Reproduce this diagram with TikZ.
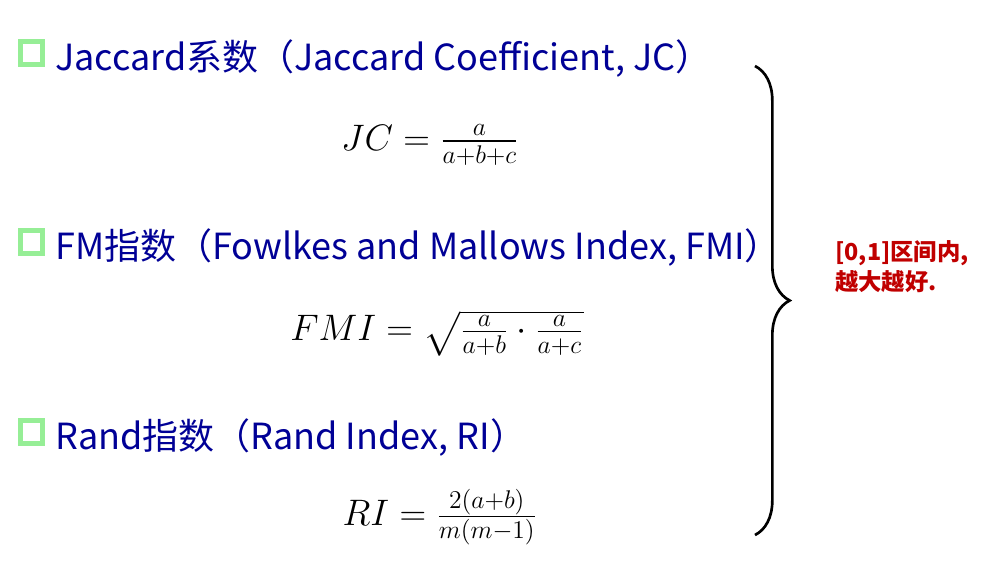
\documentclass[tikz,border=0pt]{standalone}
\usepackage{amsmath}
\usepackage{graphicx}
\usepackage{fontspec}
\setmainfont{Noto Sans CJK SC}
\usetikzlibrary{decorations.pathreplacing}
\definecolor{headblue}{RGB}{0,0,150}
\definecolor{boxgreen}{RGB}{150,238,150}
\definecolor{notered}{RGB}{192,0,0}
\tikzset{
  bulletbox/.style={draw=boxgreen,line width=3.6pt,minimum size=17pt,inner sep=0pt},
  headtext/.style={anchor=base west,text=headblue,inner sep=0pt,font=\fontsize{27}{30}\selectfont},
  formula/.style={inner sep=0pt,font=\fontsize{17}{20}\selectfont},
  notetext/.style={anchor=base west,text=notered,inner sep=0pt,align=left,font=\fontsize{17.5}{22.5}\selectfont\bfseries}
}
\newcommand{\bigmath}[1]{\scalebox{1.6}{$#1$}}
\begin{document}
\begin{tikzpicture}[x=0.75pt,y=-0.75pt]
\useasboundingbox (0,0) rectangle (986,587);
% items
\node[bulletbox] (b1) at (31.5,53) {};
\node[headtext] (h1) at (55,70) {Jaccard系数（Jaccard Coefficient, JC）};
\node[formula] (f1) at (430,145) {\bigmath{JC=\frac{a}{a+b+c}}};
\node[bulletbox] (b2) at (31.5,242) {};
\node[headtext] (h2) at (55,259) {FM指数（Fowlkes and Mallows Index, FMI）};
\node[formula] (f2) at (437,333) {\bigmath{FMI=\sqrt{\frac{a}{a+b}\cdot\frac{a}{a+c}}}};
\node[bulletbox] (b3) at (31.5,432) {};
\node[headtext] (h3) at (55,449) {Rand指数（Rand Index, RI）};
\node[formula] (f3) at (440,517) {\bigmath{RI=\frac{2(a+b)}{m(m-1)}}};
% brace and note
\coordinate (bt) at (755,66);
\coordinate (bb) at (755,535);
\draw[line width=2pt,decorate,decoration={brace,amplitude=26pt}] (bt) -- (bb);
\node[notetext] (n1) at (835,290) {[0,1]区间内,\\越大越好.};
\end{tikzpicture}
\end{document}
